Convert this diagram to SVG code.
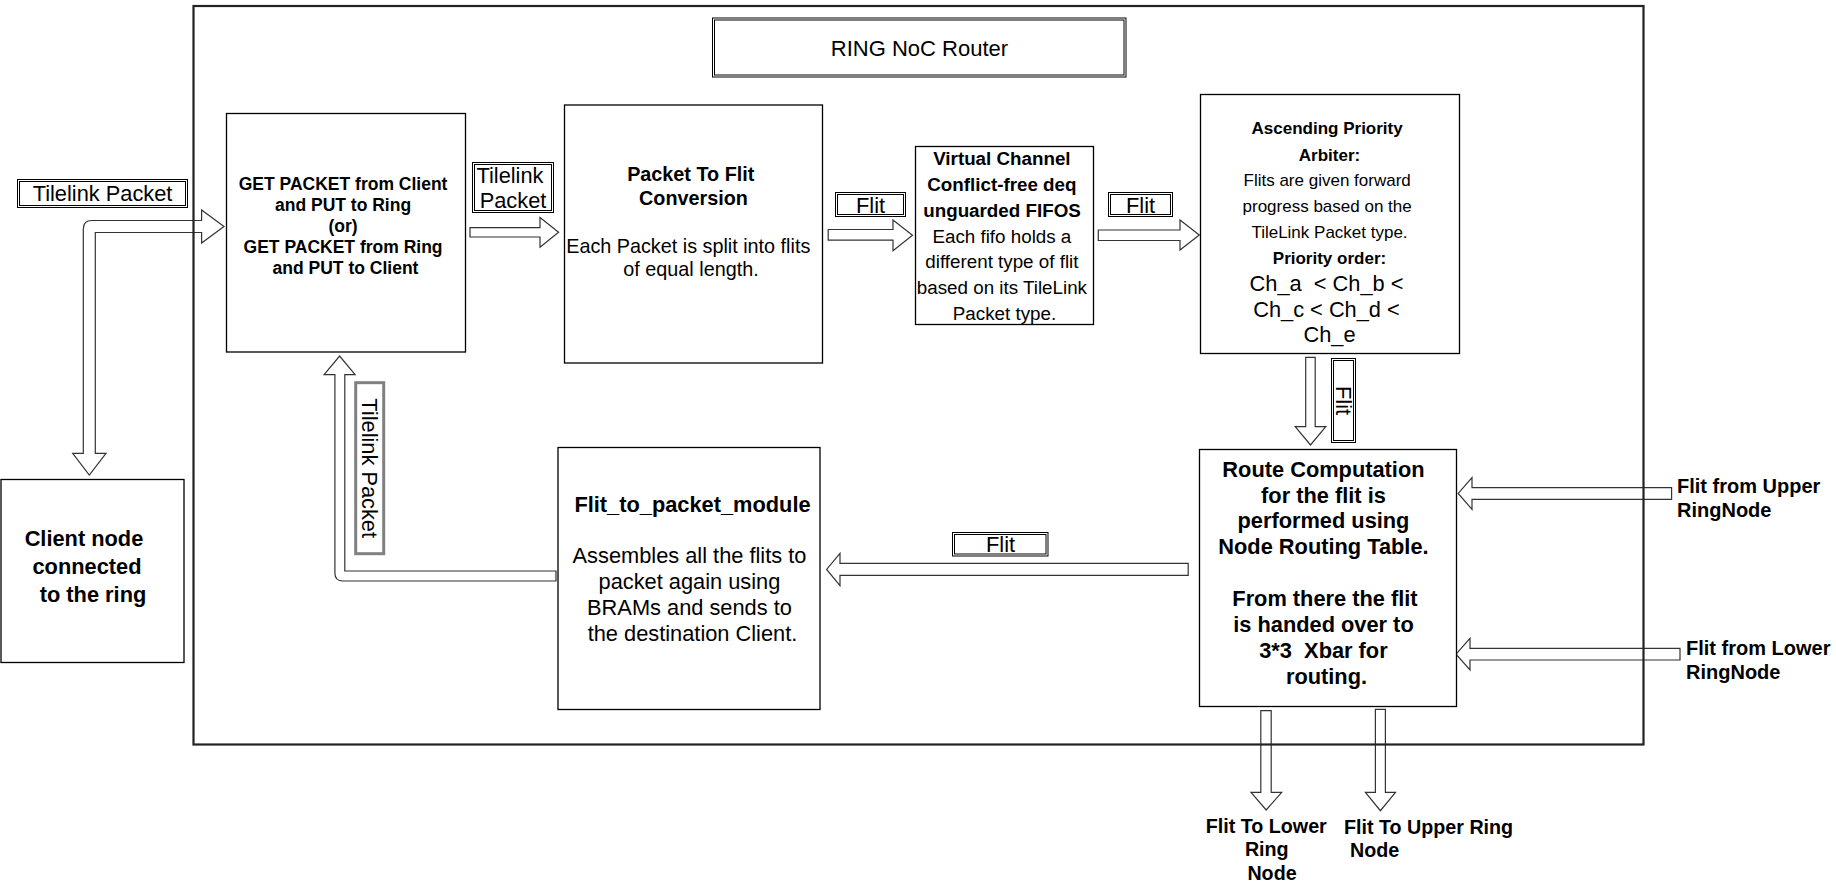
<svg xmlns="http://www.w3.org/2000/svg" width="1836" height="884" viewBox="0 0 1836 884">
  <style>
    .bg { fill: #ffffff; }
    .box { fill: #ffffff; stroke: #000000; stroke-width: 1.3; }
    .frame { fill: none; stroke: #222222; stroke-width: 2.2; }
    .arr { fill: #ffffff; stroke: #333333; stroke-width: 1.2; stroke-linejoin: miter; }
    .lbl { fill: #ffffff; stroke: #000000; stroke-width: 1; }
    .lbl-in { fill: none; stroke: #000000; stroke-width: 1; }
    .lbl-sel { fill: #ffffff; stroke: #808080; stroke-width: 3; }
    .t { font-family: "Liberation Sans", Arial, sans-serif; fill: #000000; }
    .b { font-weight: bold; }
    .c { text-anchor: middle; }
  </style>

  <rect class="bg" x="0" y="0" width="1836" height="884"/>

  <!-- block arrows between the modules -->
  <g id="connectors">
    <!-- client <-> packet handler (two-headed elbow) -->
    <path class="arr" d="M201.6,220.5 L201.6,210 L224,226.5 L201.6,243 L201.6,232.5 L95.3,232.5 L95.3,453.3 L106,453.3 L89.3,475 L72.7,453.3 L83.3,453.3 L83.3,229 Q83.3,220.5 91.8,220.5 Z"/>
    <!-- packet handler -> packet to flit -->
    <path class="arr" d="M470,227.6 L540,227.6 L540,217.6 L558.6,232.3 L540,247.3 L540,237 L470,237 Z"/>
    <!-- packet to flit -> virtual channel FIFOs -->
    <path class="arr" d="M828.2,229.5 L893,229.5 L893,220 L912.5,235.2 L893,250.7 L893,240.2 L828.2,240.2 Z"/>
    <!-- FIFOs -> arbiter -->
    <path class="arr" d="M1098.3,230 L1180,230 L1180,220 L1199.3,235 L1180,250 L1180,240.5 L1098.3,240.5 Z"/>
    <!-- arbiter -> route computation -->
    <path class="arr" d="M1305.7,357.3 L1315.2,357.3 L1315.2,426.7 L1325.8,426.7 L1310.5,445 L1295.2,426.7 L1305.7,426.7 Z"/>
    <!-- route computation -> flit to packet -->
    <path class="arr" d="M1188.2,563.3 L840,563.3 L840,553.3 L826.6,569.4 L840,585.7 L840,575.3 L1188.2,575.3 Z"/>
    <!-- flit to packet -> packet handler (elbow) -->
    <path class="arr" d="M556,571 L344.8,571 L344.8,374.7 L355.1,374.7 L339.6,356 L324.1,374.7 L334.9,374.7 L334.9,573 Q334.9,581 342.9,581 L556,581 Z"/>
    <!-- upper ring node -> route computation -->
    <path class="arr" d="M1671.6,487.7 L1472,487.7 L1472,477.7 L1458.2,493.4 L1472,509.3 L1472,499.3 L1671.6,499.3 Z"/>
    <!-- lower ring node -> route computation -->
    <path class="arr" d="M1680,648.3 L1470,648.3 L1470,638.3 L1456,654.2 L1470,670 L1470,660 L1680,660 Z"/>
    <!-- route computation -> lower ring node -->
    <path class="arr" d="M1260.8,710.7 L1271.2,710.7 L1271.2,792.3 L1281.7,792.3 L1266.2,810 L1251,792.3 L1260.8,792.3 Z"/>
    <!-- route computation -> upper ring node -->
    <path class="arr" d="M1375.4,709.3 L1385.4,709.3 L1385.4,792.3 L1395.5,792.3 L1380.4,810.7 L1365.4,792.3 L1375.4,792.3 Z"/>
  </g>

  <!-- router boundary -->
  <g id="router-frame">
    <rect class="frame" x="193.5" y="6" width="1450" height="738.5"/>
  </g>

  <g id="title">
    <rect class="lbl" x="712.5" y="18" width="413.5" height="59"/>
    <rect class="lbl-in" x="714.5" y="20" width="409.5" height="55"/>
    <text class="t c" x="919.5" y="56" font-size="22">RING NoC Router</text>
  </g>

  <g id="client-node">
    <rect class="box" x="1" y="479.5" width="183" height="183"/>
    <text class="t b c" font-size="21.8">
      <tspan x="87" y="546">Client node</tspan>
      <tspan x="90" y="573.5">connected</tspan>
      <tspan x="93" y="602">to the ring</tspan>
    </text>
  </g>

  <g id="packet-handler">
    <rect class="box" x="226.5" y="113.5" width="239" height="238.5"/>
    <text class="t b c" font-size="17.5">
      <tspan x="345.5" y="190">GET PACKET from Client</tspan>
      <tspan x="345.5" y="211">and PUT to Ring</tspan>
      <tspan x="345.5" y="232">(or)</tspan>
      <tspan x="345.5" y="253">GET PACKET from Ring</tspan>
      <tspan x="345.5" y="274">and PUT to Client</tspan>
    </text>
  </g>

  <g id="packet-to-flit">
    <rect class="box" x="564.5" y="105" width="258" height="258"/>
    <text class="t b c" font-size="19.8">
      <tspan x="693.5" y="181">Packet To Flit</tspan>
      <tspan x="693.5" y="205">Conversion</tspan>
    </text>
    <text class="t c" font-size="19.8">
      <tspan x="691" y="252.5">Each Packet is split into flits</tspan>
      <tspan x="691" y="276">of equal length.</tspan>
    </text>
  </g>

  <g id="vc-fifos">
    <rect class="box" x="915.5" y="146.5" width="178" height="178"/>
    <text class="t b c" font-size="18.8">
      <tspan x="1004.5" y="165">Virtual Channel</tspan>
      <tspan x="1004.5" y="191">Conflict-free deq</tspan>
      <tspan x="1002" y="216.7">unguarded FIFOS</tspan>
    </text>
    <text class="t c" font-size="18.8">
      <tspan x="1004.5" y="242.7">Each fifo holds a</tspan>
      <tspan x="1004.5" y="268.3">different type of flit</tspan>
      <tspan x="1004.5" y="294.3">based on its TileLink</tspan>
      <tspan x="1004.5" y="320">Packet type.</tspan>
    </text>
  </g>

  <g id="arbiter">
    <rect class="box" x="1200.5" y="94.5" width="259" height="259"/>
    <text class="t b c" font-size="17">
      <tspan x="1329.5" y="134.3">Ascending Priority</tspan>
      <tspan x="1329.5" y="160.7">Arbiter:</tspan>
    </text>
    <text class="t c" font-size="17">
      <tspan x="1329.5" y="186">Flits are given forward</tspan>
      <tspan x="1329.5" y="212.3">progress based on the</tspan>
      <tspan x="1329.5" y="238">TileLink Packet type.</tspan>
    </text>
    <text class="t b c" font-size="17" x="1329.5" y="264.3">Priority order:</text>
    <text class="t c" font-size="21.8">
      <tspan x="1329.5" y="290.7">Ch_a&#160; &lt; Ch_b &lt;</tspan>
      <tspan x="1329.5" y="316.7">Ch_c &lt; Ch_d &lt;</tspan>
      <tspan x="1329.5" y="342">Ch_e</tspan>
    </text>
  </g>

  <g id="route-computation">
    <rect class="box" x="1199.5" y="449.5" width="257" height="257"/>
    <text class="t b c" font-size="21.8">
      <tspan x="1326.5" y="476.7">Route Computation</tspan>
      <tspan x="1326.5" y="502.7">for the flit is</tspan>
      <tspan x="1326.5" y="528.3">performed using</tspan>
      <tspan x="1326.5" y="554.3">Node Routing Table.</tspan>
      <tspan x="1328" y="606">From there the flit</tspan>
      <tspan x="1326.5" y="632.3">is handed over to</tspan>
      <tspan x="1326.5" y="658.3">3*3&#160; Xbar for</tspan>
      <tspan x="1326.5" y="684.3">routing.</tspan>
    </text>
  </g>

  <g id="flit-to-packet">
    <rect class="box" x="558" y="447.5" width="262" height="262"/>
    <text class="t b c" font-size="21.8" x="692.5" y="511.7">Flit_to_packet_module</text>
    <text class="t c" font-size="21.8">
      <tspan x="692.5" y="563.3">Assembles all the flits to</tspan>
      <tspan x="692.5" y="589.3">packet again using</tspan>
      <tspan x="692.5" y="615">BRAMs and sends to</tspan>
      <tspan x="692.5" y="641">the destination Client.</tspan>
    </text>
  </g>

  <!-- connector labels -->
  <g id="label-tilelink-client">
    <rect class="lbl" x="17.5" y="179.5" width="170" height="28"/>
    <rect class="lbl-in" x="19.5" y="181.5" width="166" height="24"/>
    <text class="t c" font-size="21.8" x="102.5" y="201">Tilelink Packet</text>
  </g>

  <g id="label-tilelink-in">
    <rect class="lbl" x="472.5" y="162.5" width="81" height="50"/>
    <rect class="lbl-in" x="474.5" y="164.5" width="77" height="46"/>
    <text class="t c" font-size="21.8">
      <tspan x="513" y="182.5">Tilelink</tspan>
      <tspan x="513" y="208.3">Packet</tspan>
    </text>
  </g>

  <g id="label-flit-1">
    <rect class="lbl" x="835.5" y="192.5" width="70" height="24"/>
    <rect class="lbl-in" x="837.5" y="194.5" width="66" height="20"/>
    <text class="t c" font-size="21.8" x="870.5" y="212.5">Flit</text>
  </g>

  <g id="label-flit-2">
    <rect class="lbl" x="1108.5" y="192.5" width="64" height="24"/>
    <rect class="lbl-in" x="1110.5" y="194.5" width="60" height="20"/>
    <text class="t c" font-size="21.8" x="1140.5" y="212.5">Flit</text>
  </g>

  <g id="label-flit-3">
    <rect class="lbl" x="1331.5" y="358.5" width="24" height="84"/>
    <rect class="lbl-in" x="1333.5" y="360.5" width="20" height="80"/>
    <text class="t c" font-size="21.8" transform="translate(1343.5,400.5) rotate(90)" x="0" y="7.8">Flit</text>
  </g>

  <g id="label-flit-4">
    <rect class="lbl" x="952.5" y="532.5" width="95.5" height="23.5"/>
    <rect class="lbl-in" x="954.5" y="534.5" width="91.5" height="19.5"/>
    <text class="t c" font-size="21.8" x="1000.5" y="552">Flit</text>
  </g>

  <g id="label-tilelink-out">
    <rect class="lbl-sel" x="355.7" y="382.7" width="28" height="171"/>
    <text class="t c" font-size="21.8" transform="translate(369.7,468.2) rotate(90)" x="0" y="7.8">Tilelink Packet</text>
  </g>

  <!-- ring side labels -->
  <g id="label-upper-in">
    <text class="t b" font-size="20">
      <tspan x="1677" y="493.3">Flit from Upper</tspan>
      <tspan x="1677" y="517">RingNode</tspan>
    </text>
  </g>

  <g id="label-lower-in">
    <text class="t b" font-size="20">
      <tspan x="1686" y="655">Flit from Lower</tspan>
      <tspan x="1686" y="678.5">RingNode</tspan>
    </text>
  </g>

  <g id="label-lower-out">
    <text class="t b c" font-size="19.7">
      <tspan x="1269" y="832.5">Flit To Lower</tspan>
      <tspan x="1269.5" y="856">Ring</tspan>
      <tspan x="1272" y="880">Node</tspan>
    </text>
  </g>

  <g id="label-upper-out">
    <text class="t b" font-size="19.7">
      <tspan x="1344" y="834">Flit To Upper Ring</tspan>
      <tspan x="1350" y="857">Node</tspan>
    </text>
  </g>
</svg>
